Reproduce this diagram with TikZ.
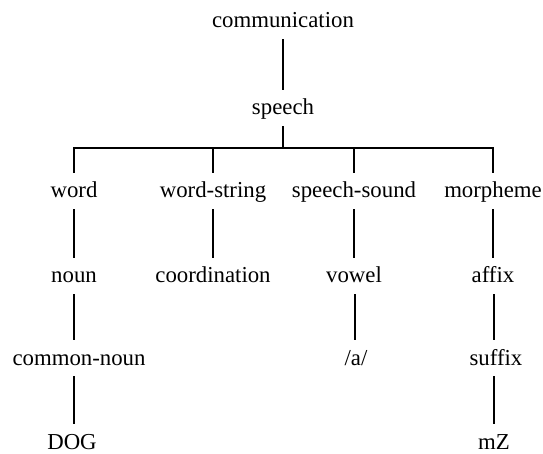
\documentclass[tikz,border=0pt]{standalone}
\usepackage{fontspec}
\setmainfont{Liberation Serif}
\begin{document}
\begin{tikzpicture}[x=1pt,y=-1pt,
  lbl/.style={anchor=base,inner sep=0pt,text height=25pt,text depth=11pt,
    font=\fontsize{22.8}{26}\selectfont},
  edge/.style={line width=1.3pt}]
\useasboundingbox (0,0) rectangle (543,454);
% nodes
\node[lbl] (comm) at (283,28) {communication};
\node[lbl] (speech) at (283,115) {speech};
\coordinate (bar) at (283,148);
\node[lbl] (word) at (74,198) {word};
\node[lbl] (wstring) at (213,198) {word-string};
\node[lbl] (ssound) at (354,198) {speech-sound};
\node[lbl] (morph) at (493,198) {morpheme};
\node[lbl] (noun) at (74,283) {noun};
\node[lbl] (coord) at (213,283) {coordination};
\node[lbl] (vowel) at (354,283) {vowel};
\node[lbl] (affix) at (493,283) {affix};
\node[lbl] (cnoun) at (79,365) {common-noun};
\node[lbl] (a) at (356,365) {/a/};
\node[lbl] (suffix) at (496,365) {suffix};
\node[lbl] (dog) at (72,449) {DOG};
\node[lbl] (mz) at (494,449) {mZ};
% connectors
\draw[edge] (comm) -- (speech);
\draw[edge] (speech) -- (bar);
\draw[edge] (word.north -| 74,0) |- (bar) -| (morph.north);
\draw[edge] (wstring.north) -- (wstring.north |- bar);
\draw[edge] (ssound.north) -- (ssound.north |- bar);
\draw[edge] (word) -- (noun);
\draw[edge] (wstring) -- (coord);
\draw[edge] (ssound) -- (vowel);
\draw[edge] (morph) -- (affix);
\draw[edge] (noun.south) -- (noun.south |- cnoun.north);
\draw[edge] (vowel.south -| 355,0) -- (a.north -| 355,0);
\draw[edge] (affix.south -| 494,0) -- (suffix.north -| 494,0);
\draw[edge] (cnoun.south -| 74,0) -- (dog.north -| 74,0);
\draw[edge] (suffix.south -| 494,0) -- (mz.north -| 494,0);
\end{tikzpicture}
\end{document}
